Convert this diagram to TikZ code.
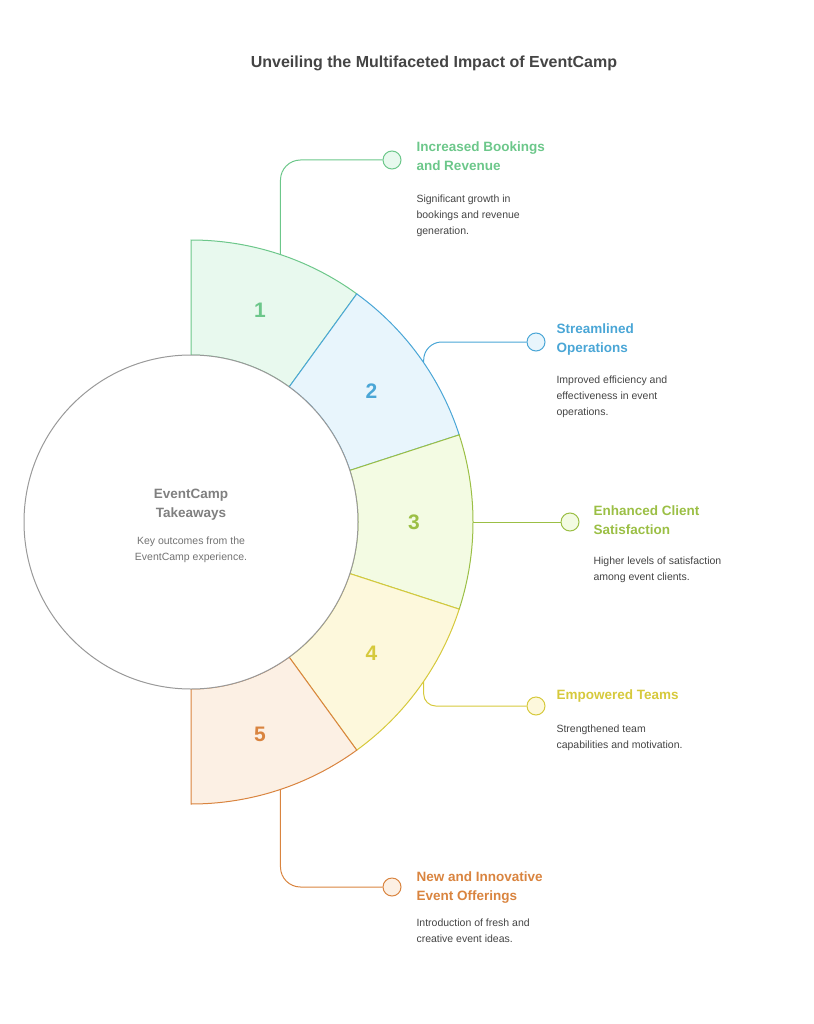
\documentclass[tikz,border=0pt]{standalone}
\usepackage{fontspec}
\setmainfont{Liberation Sans}
\usetikzlibrary{calc}
\definecolor{cgreen}{HTML}{6CC78A}\definecolor{fgreen}{HTML}{E8F9EE}
\definecolor{cblue}{HTML}{4AA6D6}\definecolor{fblue}{HTML}{E8F5FC}
\definecolor{clime}{HTML}{9BBF45}\definecolor{flime}{HTML}{F3FBE3}
\definecolor{cyel}{HTML}{D6C93C}\definecolor{fyel}{HTML}{FDF8DC}
\definecolor{corange}{HTML}{D9843F}\definecolor{forange}{HTML}{FCF0E4}
\definecolor{txt}{HTML}{444444}
\tikzstyle{dot} = [circle,draw,minimum size=18pt,inner sep=0pt]
\tikzstyle{head} = [anchor=north west,align=left,font=\fontsize{13.5}{19}\selectfont\bfseries,inner sep=0pt]
\tikzstyle{body} = [anchor=north west,align=left,font=\fontsize{10.5}{16}\selectfont,text=txt,inner sep=0pt]
\tikzstyle{num} = [font=\fontsize{21}{21}\selectfont\bfseries]
\begin{document}
\begin{tikzpicture}[x=1pt,y=-1pt,line width=1pt]
      \useasboundingbox (0,0) rectangle (813,1024);
      \coordinate (c) at (191,522);
      \node[font=\fontsize{16}{18}\selectfont\bfseries,text=txt] (title) at (434,63) {Unveiling the Multifaceted Impact of EventCamp};

      % ring segments
      \foreach \i/\cl/\fl in {1/cgreen/fgreen,2/cblue/fblue,3/clime/flime,4/cyel/fyel,5/corange/forange}{
        \pgfmathsetmacro{\a}{-90+36*(\i-1)}
        \pgfmathsetmacro{\b}{\a+36}
        \pgfmathsetmacro{\m}{\a+18}
        \draw[draw=\cl,fill=\fl] ($(c)+(\a:282)$) arc (\a:\b:282) -- ($(c)+(\b:167)$) arc (\b:\a:167) -- cycle;
        \node[num,text=\cl] (n\i) at ($(c)+(\m:223)$) {\i};
      }

      % center circle
      \draw[gray!80,fill=white] (c) circle (167);
      \node[font=\fontsize{13.5}{19}\selectfont\bfseries,text=gray,align=center] (ct) at (191,505) {EventCamp\\Takeaways};
      \node[font=\fontsize{10.5}{16}\selectfont,text=gray!90!black,align=center] (cb) at (191,550) {Key outcomes from the\\EventCamp experience.};

      % dots
      \node[dot,draw=cgreen,fill=fgreen] (d1) at (392,160) {};
      \node[dot,draw=cblue,fill=fblue] (d2) at (536,342) {};
      \node[dot,draw=clime,fill=flime] (d3) at (570,522) {};
      \node[dot,draw=cyel,fill=fyel] (d4) at (536,706) {};
      \node[dot,draw=corange,fill=forange] (d5) at (392,887) {};

      % connectors
      \coordinate (r1) at ($(c)+(-71.5:282)$);
      \coordinate (r2) at ($(c)+(-34.4:282)$);
      \coordinate (r3) at ($(c)+(0:282)$);
      \coordinate (r4) at ($(c)+(34.4:282)$);
      \coordinate (r5) at ($(c)+(71.5:282)$);
      \draw[cgreen,rounded corners=20] (r1) |- (d1);
      \draw[cblue,rounded corners=18] (r2) |- (d2);
      \draw[clime] (r3) -- (d3);
      \draw[cyel,rounded corners=12] (r4) |- (d4);
      \draw[corange,rounded corners=20] (r5) |- (d5);

      % labels
      \node[head,text=cgreen] (h1) at (416,141) {Increased Bookings\\and Revenue};
      \node[body] (b1) at (416,194) {Significant growth in\\bookings and revenue\\generation.};
      \node[head,text=cblue] (h2) at (556,323) {Streamlined\\Operations};
      \node[body] (b2) at (556,375) {Improved efficiency and\\effectiveness in event\\operations.};
      \node[head,text=clime] (h3) at (593,505) {Enhanced Client\\Satisfaction};
      \node[body] (b3) at (593,556) {Higher levels of satisfaction\\among event clients.};
      \node[head,text=cyel] (h4) at (556,689) {Empowered Teams};
      \node[body] (b4) at (556,724) {Strengthened team\\capabilities and motivation.};
      \node[head,text=corange] (h5) at (416,871) {New and Innovative\\Event Offerings};
      \node[body] (b5) at (416,918) {Introduction of fresh and\\creative event ideas.};
    \end{tikzpicture}
\end{document}
